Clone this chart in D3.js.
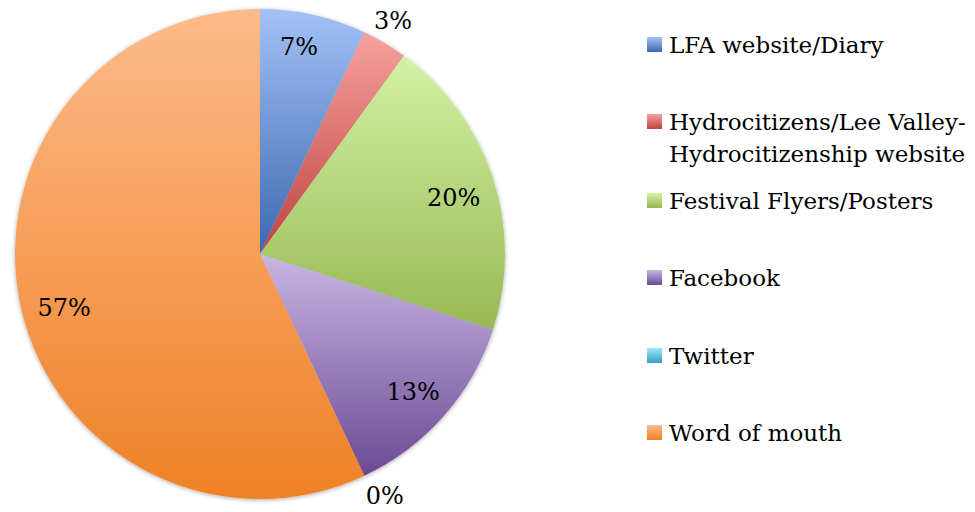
<!DOCTYPE html>
<html><head><meta charset="utf-8">
<script src="https://cdn.jsdelivr.net/npm/d3@7"></script>
<style>body{margin:0;background:#fff}svg{display:block}</style>
</head><body>
<script>
const categories = ["LFA website/Diary","Hydrocitizens/Lee Valley-Hydrocitizenship website","Festival Flyers/Posters","Facebook","Twitter","Word of mouth"];
const legendLines = [["LFA website/Diary"],["Hydrocitizens/Lee Valley-","Hydrocitizenship website"],["Festival Flyers/Posters"],["Facebook"],["Twitter"],["Word of mouth"]];
const values = [7,3,20,13,0,57];
const pctLabels = ["7%","3%","20%","13%","0%","57%"];
const topColors = ["#a4c1f6","#f6a19f","#d3f2a4","#c8b6e3","#9be5f9","#fdba89"];
const bottomColors = ["#3b69b0","#bf423f","#97b853","#6b4a94","#33a0bf","#ef8126"];

const W=975,H=512, cx=260, cy=254, R=245;
const font='"DejaVu Serif", "Liberation Serif", serif';
const svg=d3.select("body").append("svg").attr("width",W).attr("height",H);
const defs=svg.append("defs");
categories.forEach((c,i)=>{
  const g=defs.append("linearGradient").attr("id","g"+i).attr("x1",0).attr("y1",0).attr("x2",0).attr("y2",1);
  g.append("stop").attr("offset","0%").attr("stop-color",topColors[i]);
  g.append("stop").attr("offset","100%").attr("stop-color",bottomColors[i]);
});
const f=defs.append("filter").attr("id","sh").attr("x","-10%").attr("y","-10%").attr("width","120%").attr("height","120%");
f.append("feDropShadow").attr("dx",0).attr("dy",1).attr("stdDeviation",2).attr("flood-color","#000").attr("flood-opacity",0.35);

const pie=d3.pie().sort(null).value(d=>d)(values);
const arc=d3.arc().innerRadius(0).outerRadius(R);
const g=svg.append("g").attr("transform",`translate(${cx},${cy})`);
const shadowG=g.append("g").attr("filter","url(#sh)");
shadowG.selectAll("path").data(pie).join("path")
  .attr("d",arc).attr("fill",(d,i)=>`url(#g${i})`);

// label placement: radius factor + small nudges
const labelR=[0.86,1.09,0.81,0.85,1.10,0.84];
const nudgeX=[-7,-3,5,-3,10,5];
const nudgeY=[-1,-3,5,0,-2,9];
svg.append("g").selectAll("text").data(pie).join("text")
  .attr("x",(d,i)=>cx+Math.sin((d.startAngle+d.endAngle)/2)*R*labelR[i]+nudgeX[i])
  .attr("y",(d,i)=>cy-Math.cos((d.startAngle+d.endAngle)/2)*R*labelR[i]+nudgeY[i])
  .attr("text-anchor","middle").attr("dominant-baseline","central")
  .attr("font-family",font).attr("font-size",24).attr("fill","#000")
  .text((d,i)=>pctLabels[i]);

const legY=[45,122,201,278,356,433];
const lg=svg.append("g");
categories.forEach((c,i)=>{
  lg.append("rect").attr("x",647).attr("y",legY[i]-8).attr("width",15).attr("height",15).attr("fill",`url(#g${i})`);
  const t=lg.append("text").attr("x",669).attr("y",legY[i]+8).attr("font-family",font).attr("font-size",23).attr("fill","#000");
  legendLines[i].forEach((l,j)=>t.append("tspan").attr("x",669).attr("dy",j?32:0).text(l));
});
</script>
</body></html>
